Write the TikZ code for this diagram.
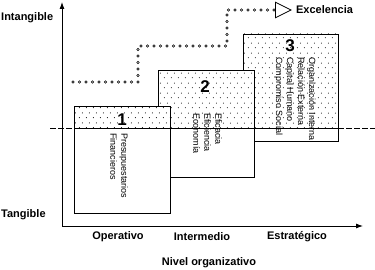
\documentclass[tikz,border=0pt]{standalone}
\usepackage{fontspec}
\setmainfont{Liberation Sans}
\usetikzlibrary{arrows.meta, positioning, shapes.geometric, patterns.meta}

\tikzdeclarepattern{
  name=sparsedots, type=uncolored,
  bounding box={(0pt,0pt) and (6.5pt,10pt)},
  tile size={(6.5pt,10pt)},
  code={
    \fill (1.5pt,2.5pt) circle (0.55pt);
    \fill (4.75pt,7.5pt) circle (0.55pt);
  }
}

\begin{document}
\begin{tikzpicture}[
    x=1pt, y=-1pt,
    axis/.style={line width=0.9pt, -{Latex[length=7pt,width=5pt]}},
    level/.style={line width=0.9pt, dash pattern=on 6pt off 2pt},
    rings/.style={white, line width=1.2pt, line cap=round, dash pattern=on 0pt off 6.5pt,
        preaction={draw=black, line width=3.2pt, line cap=round, dash pattern=on 0pt off 6.5pt}},
    tri/.style={isosceles triangle, draw, line width=0.8pt, fill=white, inner sep=0pt,
        isosceles triangle stretches, minimum width=15.5pt, minimum height=15.5pt},
    lbl/.style={font=\fontsize{11}{13}\selectfont\bfseries, inner sep=0pt},
    num/.style={font=\fontsize{17}{17}\selectfont\bfseries, inner sep=0pt},
    vtext/.style={rotate=-90, anchor=north west, align=left, inner sep=0pt,
        font=\fontsize{9}{11}\selectfont}
]
\useasboundingbox (0,0) rectangle (375,270);

% axes and the tangible / intangible limit
\coordinate (o) at (62,226);
\coordinate (ytop) at (62,2);
\coordinate (xend) at (363,226);
\coordinate (dl) at (50,128);
\coordinate (dr) at (375,128);
\draw[level] (dl) -- (dr);
\draw[axis] (o) -- (ytop);
\draw[axis] (o) -- (xend);

% stair path to excellence
\coordinate (start) at (73,82);
\node[tri, anchor=west] (tri) at (275,10) {};
\draw[rings] (start) -| (138,46) -| (227,10) -- (tri.west);
\node[lbl, right=4pt of tri] (exc) {Excelencia};

% levels, back to front
\foreach \xa/\xb/\ya/\yb in {243/338/34/141, 158/254/70/177, 74/170/106/213} {
  \fill[white] (\xa,\ya) rectangle (\xb,\yb);
  \fill[pattern=sparsedots] (\xa,\ya) rectangle (\xb,128);
  \draw[line width=0.9pt] (\xa,\ya) rectangle (\xb,\yb);
  \draw[line width=0.9pt] (\xa,128) -- (\xb,128);
}

\node[num] (n3) at (290,46) {3};
\node[vtext] (t3) at (316,57) {Organización Interna\\Relación Externa\\Capital Humano\\Compromiso Social};
\node[num] (n2) at (205,87) {2};
\node[vtext] (t2) at (222,113) {Eficacia\\Eficiencia\\Economía};
\node[num] (n1) at (122,120) {1};
\node[vtext] (t1) at (128,133) {Presupuestarios\\Financieros};

% axis labels
\node[lbl, anchor=west] (intang) at (1,18) {Intangible};
\node[lbl, anchor=west] (tang) at (1,215) {Tangible};
\node[lbl] (op) at (118,237) {Operativo};
\node[lbl] (inter) at (202,237) {Intermedio};
\node[lbl] (estr) at (297,237) {Estratégico};
\node[lbl] (nivel) at (209,263) {Nivel organizativo};
\end{tikzpicture}
\end{document}
